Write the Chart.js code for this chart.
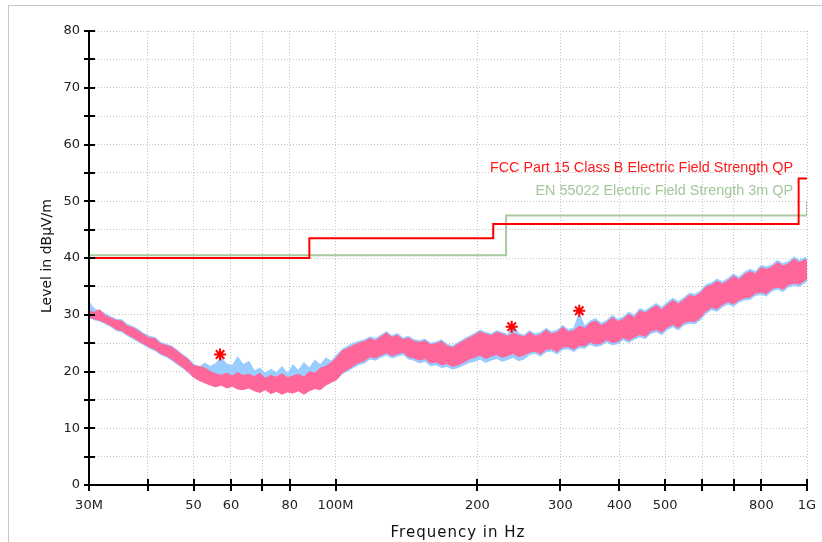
<!DOCTYPE html>
<html>
<head>
<meta charset="utf-8">
<script src="https://cdn.jsdelivr.net/npm/chart.js@4.4.0/dist/chart.umd.min.js"></script>
<style>
  html, body { margin: 0; padding: 0; background: #fff; }
  #wrap { position: relative; width: 822px; height: 542px; overflow: hidden; }
  #frame { position: absolute; left: 8px; top: 5px; right: -2px; bottom: -2px;
           border-left: 1px solid #c6c6c6; border-top: 1px solid #c6c6c6; }
  canvas { position: absolute; left: 0; top: 0; }
</style>
</head>
<body>
<div id="wrap"><div id="frame"></div><canvas id="scan" width="822" height="542"></canvas></div>
<script>
// scan frequencies (MHz) shared by both traces
const freqMHz = [
  30, 30.8, 31.6, 32.5, 33.4, 34.3, 35.2, 36.2, 37.2, 38.2,
  39.2, 40.3, 41.4, 42.5, 43.7, 44.9, 46.1, 47.4, 48.7, 50,
  51.4, 52.8, 54.2, 55.7, 57.2, 58.8, 60.4, 62, 63.7, 65.5,
  67.3, 69.1, 71, 72.9, 74.9, 77, 79.1, 81.2, 83.4, 85.7,
  88, 90.4, 92.9, 95.4, 98, 100.7, 103.4, 106.2, 109.1, 112.1,
  115.2, 118.3, 121.5, 124.8, 128.2, 131.7, 135.3, 139, 142.8, 146.7,
  150.7, 154.8, 159, 163.3, 167.8, 172.4, 177.1, 181.9, 186.9, 192,
  197.2, 202.6, 208.1, 213.8, 219.6, 225.6, 231.7, 238, 244.5, 251.2,
  258, 265.1, 272.3, 279.7, 287.3, 295.2, 303.2, 311.5, 320, 328.7,
  337.6, 346.8, 356.3, 366, 376, 386.3, 396.8, 407.6, 418.7, 430.1,
  441.9, 453.9, 466.3, 479, 492.1, 505.5, 519.3, 533.4, 548, 562.9,
  578.3, 594, 610.2, 626.9, 644, 661.5, 679.6, 698.1, 717.1, 736.7,
  756.8, 777.4, 798.6, 820.4, 842.8, 865.8, 889.4, 913.6, 938.5, 964.1,
  990.4, 1000
];

// vertical polarisation, peak envelope (dBuV/m)
const vertHigh = [
  30.7, 30.4, 30.9, 29.8, 29.4, 29.0, 28.9, 28.0, 27.7, 27.1,
  26.5, 25.9, 25.8, 24.9, 24.6, 24.3, 23.6, 22.8, 22.1, 21.0,
  20.9, 20.6, 20.0, 19.6, 19.3, 19.7, 19.2, 19.8, 19.3, 19.5,
  19.1, 19.7, 18.8, 19.3, 19.0, 19.6, 18.9, 19.2, 19.5, 19.0,
  20.0, 19.7, 20.6, 20.9, 21.6, 22.5, 23.7, 24.1, 24.6, 25.0,
  25.3, 25.8, 25.4, 26.1, 26.8, 26.0, 26.4, 25.6, 25.9, 25.3,
  25.1, 25.4, 24.7, 24.9, 25.3, 24.5, 24.2, 24.8, 25.4, 25.9,
  26.4, 27.0, 26.6, 26.3, 26.9, 26.6, 26.2, 26.7, 26.4, 26.1,
  26.9, 26.2, 26.5, 27.3, 26.6, 26.9, 27.8, 27.0, 27.2, 28.0,
  27.6, 28.5, 28.9, 28.1, 28.6, 29.5, 28.8, 29.2, 30.1, 29.5,
  30.7, 30.3, 31.0, 31.6, 30.9, 31.8, 32.5, 31.9, 32.6, 33.4,
  33.2, 33.8, 34.9, 35.2, 35.9, 35.4, 36.0, 36.8, 36.2, 37.1,
  37.6, 37.2, 38.3, 38.0, 38.4, 39.2, 38.6, 39.0, 39.8, 39.2,
  39.7, 39.5
];
const vertLow = [
  29.6, 29.3, 29.0, 28.6, 28.1, 27.4, 27.2, 26.5, 26.0, 25.4,
  24.9, 24.3, 23.9, 23.2, 22.8, 22.2, 21.5, 20.8, 20.0, 19.0,
  18.4, 18.0, 17.6, 17.3, 17.6, 17.1, 17.4, 16.9, 16.8, 17.1,
  16.6, 16.3, 16.8, 16.1, 16.5, 16.0, 16.4, 16.2, 16.6, 16.0,
  16.6, 17.0, 16.8, 17.6, 18.1, 18.6, 19.8, 20.4, 21.0, 21.6,
  21.9, 22.6, 22.4, 22.9, 23.3, 22.8, 23.1, 23.4, 22.6, 22.4,
  22.0, 22.3, 21.5, 21.7, 21.2, 21.4, 20.9, 21.2, 21.6, 22.2,
  22.5, 22.9, 22.3, 22.7, 23.0, 22.5, 22.8, 23.2, 22.6, 22.9,
  23.4, 23.6, 23.1, 23.9, 24.0, 23.5, 24.3, 24.4, 23.9, 24.6,
  24.5, 25.2, 24.8, 25.0, 25.6, 25.1, 25.3, 26.0, 25.5, 26.1,
  26.5, 26.2, 27.1, 27.4, 26.9, 27.8, 28.3, 27.7, 28.6, 28.9,
  28.8, 29.5, 30.6, 31.3, 31.0, 31.8, 32.3, 31.9, 32.6, 33.0,
  33.1, 33.8, 34.0, 33.7, 34.6, 34.9, 34.5, 35.3, 35.6, 35.4,
  36.1, 36.3
];

// horizontal polarisation, peak envelope (dBuV/m)
const horzHigh = [
  32.3, 31.0, 30.7, 30.2, 29.6, 29.2, 29.1, 28.3, 27.9, 27.4,
  26.7, 26.2, 26.0, 25.2, 24.8, 24.5, 23.8, 23.0, 22.3, 21.3,
  20.8, 21.5, 20.9, 21.4, 22.5, 21.3, 21.0, 22.6, 21.2, 21.8,
  20.1, 20.6, 19.7, 20.4, 19.8, 20.9, 19.6, 21.2, 20.2, 21.6,
  20.6, 22.0, 21.2, 22.4, 21.8, 23.0, 23.9, 24.5, 25.0, 25.3,
  25.6, 26.1, 25.8, 26.4, 27.0, 26.3, 26.7, 25.9, 26.2, 25.6,
  25.4, 25.7, 25.0, 25.2, 25.6, 24.8, 24.5, 25.1, 25.7, 26.2,
  26.7, 27.3, 26.9, 26.6, 27.2, 26.9, 26.5, 28.2, 26.7, 26.4,
  27.2, 26.6, 26.9, 27.6, 27.0, 27.3, 28.1, 27.4, 27.6, 30.2,
  28.0, 28.9, 29.3, 28.5, 29.0, 29.9, 29.2, 29.6, 30.5, 29.9,
  31.1, 30.7, 31.4, 32.0, 31.3, 32.2, 32.9, 32.3, 33.0, 33.8,
  33.6, 34.2, 35.3, 35.6, 36.3, 35.8, 36.4, 37.2, 36.6, 37.5,
  38.0, 37.6, 38.7, 38.4, 38.8, 39.6, 39.0, 39.4, 40.2, 39.6,
  40.1, 39.9
];
const horzLow = [
  29.5, 29.1, 28.9, 28.4, 27.9, 27.2, 27.0, 26.3, 25.8, 25.2,
  24.7, 24.1, 23.7, 23.0, 22.6, 22.0, 21.3, 20.6, 19.8, 19.0,
  18.8, 18.5, 18.2, 18.0, 18.0, 17.8, 17.8, 17.6, 17.5, 17.4,
  17.2, 17.0, 17.0, 16.9, 16.8, 16.7, 17.0, 17.1, 17.0, 17.3,
  17.2, 17.4, 17.6, 18.0, 18.4, 18.8, 19.6, 20.1, 20.7, 21.2,
  21.5, 22.2, 22.0, 22.5, 22.9, 22.4, 22.7, 23.0, 22.2, 22.0,
  21.5, 21.8, 21.0, 21.2, 20.7, 20.9, 20.4, 20.7, 21.1, 21.6,
  21.8, 22.2, 21.6, 22.0, 22.3, 21.8, 22.1, 22.5, 21.9, 22.2,
  23.0, 23.2, 22.7, 23.5, 23.6, 23.1, 23.9, 24.0, 23.5, 24.2,
  24.1, 24.8, 24.4, 24.6, 25.2, 24.7, 24.9, 25.6, 25.1, 25.7,
  26.1, 25.8, 26.7, 27.0, 26.5, 27.4, 27.9, 27.3, 28.2, 28.5,
  28.4, 29.1, 30.2, 30.9, 30.6, 31.4, 31.9, 31.5, 32.2, 32.6,
  32.7, 33.4, 33.6, 33.3, 34.2, 34.5, 34.1, 34.9, 35.2, 35.0,
  35.7, 35.9
];

// limit lines
const fccFreq = [30, 88, 88, 216, 216, 960, 960, 1000];
const fccLevel = [40, 40, 43.5, 43.5, 46, 46, 54, 54];
const enFreq = [30, 230, 230, 1000, 1000];
const enLevel = [40.5, 40.5, 47.5, 47.5, 50];

// final measurement peaks
const peakFreq = [56.9, 236.4, 328.8];
const peakLevel = [23.0, 27.9, 30.7];

// axes
const xGridFreq = [30, 40, 50, 60, 70, 80, 100, 200, 300, 400, 500, 600, 700, 800, 1000];
const xLabelFreq = [30, 50, 60, 80, 100, 200, 300, 400, 500, 800, 1000];
const xLabelText = ['30M', '50', '60', '80', '100M', '200', '300', '400', '500', '800', '1G'];

const PINK = '#ff6699';
const SKY = '#99ccff';

const toPoints = (xs, ys) => xs.map((x, i) => ({ x: x, y: ys[i] }));

// black axes with ticks on both sides, axis titles and limit captions
const axesAndText = {
  id: 'axesAndText',
  afterDatasetsDraw(chart) {
    const { ctx, chartArea: a, scales: { x, y } } = chart;
    ctx.save();
    ctx.strokeStyle = '#000';
    ctx.lineWidth = 2;
    ctx.beginPath();
    ctx.moveTo(a.left, a.top);
    ctx.lineTo(a.left, a.bottom);
    ctx.lineTo(a.right, a.bottom);
    for (const t of y.ticks) {
      const py = Math.round(y.getPixelForValue(t.value));
      ctx.moveTo(a.left - 5, py);
      ctx.lineTo(a.left + 6, py);
    }
    for (const t of x.ticks) {
      const px = Math.round(x.getPixelForValue(t.value));
      ctx.moveTo(px, a.bottom - 6);
      ctx.lineTo(px, a.bottom + 6);
    }
    ctx.stroke();

    ctx.textAlign = 'right';
    ctx.textBaseline = 'middle';
    ctx.font = '14.4px "Liberation Sans"';
    ctx.fillStyle = '#ff1a1a';
    ctx.fillText('FCC Part 15 Class B Electric Field Strength QP', 793, 168);
    ctx.fillStyle = '#a3c69b';
    ctx.fillText('EN 55022 Electric Field Strength 3m QP', 793, 191);

    ctx.fillStyle = '#111';
    ctx.textAlign = 'center';
    ctx.font = '15px "DejaVu Sans"';
    ctx.letterSpacing = '1px';
    ctx.fillText('Frequency in Hz', 458, 533);
    ctx.letterSpacing = '0px';
    ctx.translate(47, 256);
    ctx.rotate(-Math.PI / 2);
    ctx.font = '14px "DejaVu Sans"';
    ctx.fillText('Level in dBµV/m', 0, 0);
    ctx.restore();
  }
};

const band = (data, color, fill) => ({
  data: data,
  borderColor: color,
  backgroundColor: color,
  borderWidth: 1,
  pointRadius: 0,
  fill: fill
});

new Chart(document.getElementById('scan'), {
  type: 'line',
  data: {
    datasets: [
      {
        label: 'Peaks',
        data: toPoints(peakFreq, peakLevel),
        showLine: false,
        pointStyle: 'star',
        pointRadius: 6,
        borderColor: '#ff0000',
        borderWidth: 2,
        order: 0
      },
      {
        label: 'FCC Part 15 Class B Electric Field Strength QP',
        data: toPoints(fccFreq, fccLevel),
        borderColor: '#ff0000',
        borderWidth: 2,
        pointRadius: 0,
        order: 1
      },
      {
        label: 'EN 55022 Electric Field Strength 3m QP',
        data: toPoints(enFreq, enLevel),
        borderColor: '#a9c9a1',
        borderWidth: 2,
        pointRadius: 0,
        order: 2
      },
      Object.assign(band(toPoints(freqMHz, vertHigh), PINK, '+1'), { order: 3 }),
      Object.assign(band(toPoints(freqMHz, vertLow), PINK, false), { order: 4 }),
      Object.assign(band(toPoints(freqMHz, horzHigh), SKY, '+1'), { order: 5 }),
      Object.assign(band(toPoints(freqMHz, horzLow), SKY, false), { order: 6 })
    ]
  },
  options: {
    responsive: false,
    animation: false,
    layout: { padding: { left: 0, right: 15, top: 31, bottom: 0 } },
    plugins: { legend: { display: false }, tooltip: { enabled: false } },
    elements: { line: { tension: 0 } },
    scales: {
      x: {
        type: 'logarithmic',
        min: 30,
        max: 1000,
        afterBuildTicks: s => { s.ticks = xGridFreq.map(v => ({ value: v })); },
        afterFit: s => { s.height = 57; s.paddingLeft = 0; s.paddingRight = 0; },
        grid: { color: '#c2c2c2', drawTicks: false },
        border: { display: false, dash: [1, 2] },
        ticks: {
          autoSkip: false,
          maxRotation: 0,
          padding: 13,
          color: '#222',
          font: { family: 'DejaVu Sans', size: 13 },
          callback: v => {
            const i = xLabelFreq.indexOf(v);
            return i < 0 ? '' : xLabelText[i];
          }
        }
      },
      y: {
        min: 0,
        max: 80,
        afterFit: s => { s.width = 89; s.paddingTop = 0; s.paddingBottom = 0; },
        grid: { color: '#c2c2c2', drawTicks: false },
        border: { display: false, dash: [1, 2] },
        ticks: {
          stepSize: 5,
          padding: 9,
          color: '#222',
          font: { family: 'DejaVu Sans', size: 13 },
          callback: v => (v % 10 === 0 ? String(v) : '')
        }
      }
    }
  },
  plugins: [axesAndText]
});
</script>
</body>
</html>
